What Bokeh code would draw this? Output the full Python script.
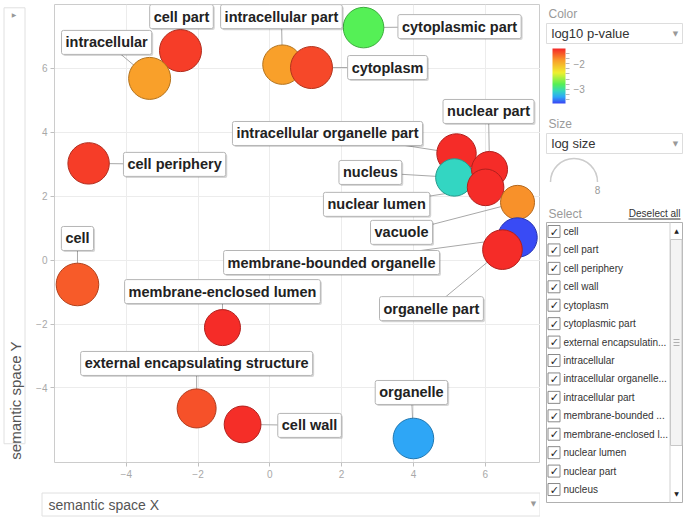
import numpy as np
from bokeh.plotting import figure
from bokeh.models import ColumnDataSource, Range1d, FixedTicker, LinearColorMapper, ColorBar
from bokeh.layouts import row, column
from bokeh.core.properties import value
from bokeh.embed import file_html
from bokeh.resources import INLINE

# ---------------- data ----------------
terms = ["cell", "cell periphery", "cell part", "intracellular", "intracellular part",
         "cytoplasm", "cytoplasmic part", "membrane-enclosed lumen",
         "external encapsulating structure", "cell wall", "organelle",
         "intracellular organelle part", "nucleus", "nuclear part", "nuclear lumen",
         "vacuole", "membrane-bounded organelle", "organelle part"]
sem_x = [-5.36, -5.05, -2.49, -3.35, 0.35, 1.16, 2.61, -1.32, -2.04, -0.76, 4.00,
         5.20, 5.14, 6.12, 6.01, 6.90, 6.90, 6.48]
sem_y = [-0.76, 3.03, 6.56, 5.69, 6.12, 6.03, 7.28, -2.11, -4.64, -5.14, -5.58,
         3.34, 2.59, 2.84, 2.28, 1.81, 0.71, 0.33]
log10_pvalue = [-1.62, -1.51, -1.51, -1.89, -1.89, -1.55, -2.80, -1.44, -1.58, -1.45,
                -3.29, -1.44, -3.07, -1.44, -1.44, -1.83, -3.52, -1.44]
log_size = [4.26, 4.14, 4.20, 4.20, 3.94, 4.20, 4.06, 3.60, 3.90, 3.68, 4.06,
            3.94, 3.74, 3.60, 3.66, 3.40, 3.94, 3.96]
select_items = ["cell", "cell part", "cell periphery", "cell wall", "cytoplasm",
                "cytoplasmic part", "external encapsulatin...", "intracellular",
                "intracellular organelle...", "intracellular part", "membrane-bounded ...",
                "membrane-enclosed l...", "nuclear lumen", "nuclear part", "nucleus"]
x_ticks = [-4, -2, 0, 2, 4, 6]
y_ticks = [-4, -2, 0, 2, 4, 6]
color_ticks = [-3, -2]
color_minor_ticks = [-3.4, -3.2, -2.8, -2.6, -2.4, -2.2, -1.8, -1.6]
color_low, color_high = -3.54, -1.42
size_legend_label = "8"

# ---------------- style ----------------
# label placement offsets in screen pixels (dx right, dy down) from bubble centre
label_offset = {
    "cell": (0, -46), "cell periphery": (86, 1), "cell part": (1, -34),
    "intracellular": (-43, -36), "intracellular part": (-1, -48), "cytoplasm": (76, 0),
    "cytoplasmic part": (96, -1), "membrane-enclosed lumen": (0, -36),
    "external encapsulating structure": (0, -45), "cell wall": (67, 1),
    "organelle": (-2, -46), "intracellular organelle part": (-129, -20),
    "nucleus": (-84, -5), "nuclear part": (-1, -58), "nuclear lumen": (-109, 17),
    "vacuole": (-116, 30), "membrane-bounded organelle": (-186, 25),
    "organelle part": (-71, 59),
}
FONT = value("Liberation Sans")

anchors = [(0.0, "#3a44f5"), (0.12, "#2ea8f6"), (0.22, "#33d6c2"), (0.35, "#55f055"),
           (0.56, "#f0f030"), (0.78, "#f9a02a"), (1.0, "#f52828")]


def hex2rgb(h):
    return tuple(int(h[i:i + 2], 16) for i in (1, 3, 5))


def build_palette(k=1.0, n=256):
    out = []
    for i in range(n):
        t = i / (n - 1)
        for (t0, c0), (t1, c1) in zip(anchors[:-1], anchors[1:]):
            if t0 <= t <= t1:
                break
        u = (t - t0) / (t1 - t0)
        a, b = hex2rgb(c0), hex2rgb(c1)
        rgb = [min(255, int(round((a[j] + (b[j] - a[j]) * u) * k))) for j in range(3)]
        out.append("#%02x%02x%02x" % tuple(rgb))
    return out


mapper = LinearColorMapper(palette=build_palette(), low=color_low, high=color_high)
mapper_dark = LinearColorMapper(palette=build_palette(0.72), low=color_low, high=color_high)

# ---------------- main plot ----------------
X0, X1 = -6.0, 7.54
Y0, Y1 = -6.332, 8.003
FW, FH = 486, 458
BL, BR, BT, BB = 24, 0, 4, 26
pxx = FW / (X1 - X0)
pxy = FH / (Y1 - Y0)

lx = [x + label_offset[t][0] / pxx for x, t in zip(sem_x, terms)]
ly = [y - label_offset[t][1] / pxy for y, t in zip(sem_y, terms)]
diam = [10 * s for s in log_size]

src = ColumnDataSource(dict(x=sem_x, y=sem_y, lx=lx, ly=ly, term=terms,
                            lp=log10_pvalue, diam=diam))

main = figure(width=FW + BL + BR, height=FH + BT + BB, x_range=Range1d(X0, X1),
              y_range=Range1d(Y0, Y1), output_backend="svg", toolbar_location=None,
              title=None, min_border_left=BL, min_border_right=BR,
              min_border_top=BT, min_border_bottom=BB)
main.outline_line_color = "#cccccc"
main.background_fill_color = "white"
for ax, tk in ((main.xaxis[0], x_ticks), (main.yaxis[0], y_ticks)):
    ax.ticker = FixedTicker(ticks=tk)
    ax.axis_line_color = None
    ax.major_tick_line_color = "#c0c0c0"
    ax.major_tick_in = 0
    ax.major_tick_out = 4
    ax.minor_tick_line_color = None
    ax.major_label_text_font_size = "10px"
    ax.major_label_text_color = "#a8a8a8"
    ax.major_label_text_font = "Liberation Sans"
    ax.major_label_standoff = 3
main.xgrid.ticker = FixedTicker(ticks=x_ticks)
main.ygrid.ticker = FixedTicker(ticks=y_ticks)
main.grid.grid_line_color = "#ececec"

main.segment(x0="x", y0="y", x1="lx", y1="ly", line_color="#a8a8a8", line_width=1, source=src)
main.scatter("x", "y", size="diam", source=src,
             fill_color={"field": "lp", "transform": mapper},
             line_color={"field": "lp", "transform": mapper_dark}, line_width=1)
main.text("lx", "ly", text="term", source=src, x_offset=1.5, y_offset=1.5,
          text_alpha=0, text_font=FONT, text_font_size="14.5px", text_font_style="bold",
          text_align="center", text_baseline="middle",
          background_fill_color="#000000", background_fill_alpha=0.16,
          padding=4, border_radius=2)
main.text("lx", "ly", text="term", source=src, text_color="#222222",
          text_font=FONT, text_font_size="14.5px", text_font_style="bold",
          text_align="center", text_baseline="middle",
          background_fill_color="white", border_line_color="#b5b5b5",
          border_line_width=1, padding=4, border_radius=2)


# ---------------- chrome helpers ----------------
def chrome(w, h, flip=True):
    yr = Range1d(h, 0) if flip else Range1d(0, h)
    f = figure(width=w, height=h, x_range=Range1d(0, w), y_range=yr,
               output_backend="svg", toolbar_location=None, title=None,
               x_axis_location=None, y_axis_location=None, min_border=0)
    f.outline_line_color = None
    f.grid.visible = False
    return f


def txt(f, x, y, s, size, color, align="left", baseline="middle", angle=0,
        font=FONT, style="normal"):
    f.text(x=[x], y=[y], text=[s], text_font=font, text_font_size=f"{size}px",
           text_color=color, text_align=align, text_baseline=baseline, angle=angle,
           text_font_style=style)


def box(f, l, r, t, b, line="#dddddd", fill="white", width=1):
    f.quad(left=[l], right=[r], top=[t], bottom=[b], fill_color=fill,
           line_color=line, line_width=width)


# y label column (page x 0..30, y 0..488)
YH = FH + BT + BB
ylab = chrome(30, YH, flip=False)
box(ylab, 3.5, 24.5, YH - 3.5, YH - 468, line="#e0e0e0")
txt(ylab, 14.5, YH - 485, "semantic space Y", 15, "#555555", angle=np.pi / 2)
txt(ylab, 13.5, YH - 11, "▶", 6, "#999999", align="center", font=value("DejaVu Sans"))

# x label strip (page x 0..540, y 488..518)
xlab = chrome(30 + FW + BL + BR, 30)
box(xlab, 41.5, 539.5, 4.5, 27.5, line="#e0e0e0")
txt(xlab, 48, 16, "semantic space X", 14, "#555555")
txt(xlab, 533, 15.5, "▼", 7, "#999999", align="center", font=value("DejaVu Sans"))

# right panel (page x 540..687)
PW, PH = 147, 518
panel = chrome(PW, PH)
txt(panel, 8, 13.5, "Color", 12, "#9a9a9a")
box(panel, 6, 142, 23, 43)
txt(panel, 11, 33, "log10 p-value", 13, "#333333")
txt(panel, 135, 33, "▼", 7, "#999999", align="center", font=value("DejaVu Sans"))

cb = ColorBar(color_mapper=mapper, orientation="vertical", width=13, height=55,
              location=(12, PH - 103), padding=0, margin=0,
              ticker=FixedTicker(ticks=color_ticks, minor_ticks=color_minor_ticks),
              major_label_text_font_size="10px", major_label_text_color="#999999",
              major_label_text_font="Liberation Sans",
              major_tick_line_color="#bbbbbb", major_tick_in=0, major_tick_out=4,
              minor_tick_line_color="#bbbbbb", minor_tick_in=0, minor_tick_out=4,
              bar_line_color=None, border_line_color=None, background_fill_color=None,
              label_standoff=4)
panel.add_layout(cb, "center")

txt(panel, 8, 123.5, "Size", 12, "#9a9a9a")
box(panel, 6, 142, 133, 153)
txt(panel, 11, 143, "log size", 13, "#333333")
txt(panel, 135, 143, "▼", 7, "#999999", align="center", font=value("DejaVu Sans"))
panel.arc(x=[33.5], y=[181.5], radius=23.5, start_angle=0, end_angle=np.pi,
          line_color="#cccccc", line_width=1.5)
txt(panel, 57, 189, size_legend_label, 10, "#999999", align="center")

txt(panel, 8, 213, "Select", 12, "#9a9a9a")
txt(panel, 140, 213, "Deselect all", 10, "#333333", align="right")
panel.segment(x0=[88], y0=[218.5], x1=[140], y1=[218.5], line_color="#333333", line_width=1)

box(panel, 6, 142, 222, 502, line="#b0b0b0")
for i, s in enumerate(select_items):
    yc = 231 + 18.43 * i
    box(panel, 7.5, 19.5, yc - 6, yc + 6, line="#8a8a8a")
    txt(panel, 13.8, yc + 0.5, "✓", 11, "#222222", align="center", font=value("DejaVu Sans"))
    txt(panel, 23, yc, s, 10, "#333333")
panel.segment(x0=[129.5], y0=[222], x1=[129.5], y1=[502], line_color="#d0d0d0")
box(panel, 130, 141.5, 239, 445, line="#c8c8c8", fill="#f4f4f4")
for gy in (339, 342, 345):
    panel.segment(x0=[133], y0=[gy], x1=[139], y1=[gy], line_color="#b0b0b0")
txt(panel, 136, 230, "▲", 6, "#222222", align="center", font=value("DejaVu Sans"))
txt(panel, 136, 493, "▼", 6, "#222222", align="center", font=value("DejaVu Sans"))

layout = row(column(row(ylab, main), xlab), panel)
open("out.html", "w").write(file_html(layout, INLINE))
